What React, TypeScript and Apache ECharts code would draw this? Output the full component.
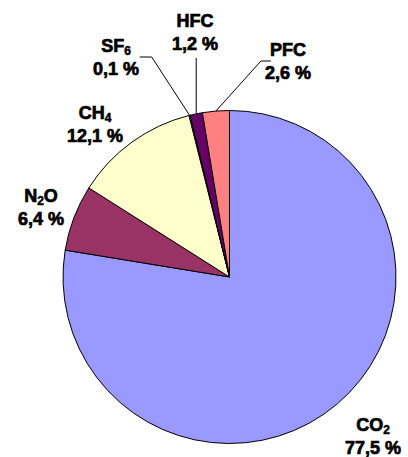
import React, { useEffect, useRef } from "react";
import * as echarts from "echarts";

// Data
const gasNames = ["CO2", "N2O", "CH4", "SF6", "HFC", "PFC"];
const gasMain = ["CO", "N", "CH", "SF", "HFC", "PFC"];
const gasSub = ["2", "2", "4", "6", "", ""];
const gasTail = ["", "O", "", "", "", ""];
const shares = [77.5, 6.4, 12.1, 0.1, 1.2, 2.6];
const colors = ["#9999FF", "#993366", "#FFFFCC", "#CCFFFF", "#660066", "#FF8080"];

// Layout
const W = 408;
const H = 457;
const CX = 229.5;
const CY = 277;
const R = 166.5;
const FONT = "Arial";
const labelPos: number[][] = [
  [373, 436],
  [41, 207],
  [95, 124],
  [116, 57],
  [195, 32],
  [288, 61],
];
const leaderKind = ["", "", "", "left", "vertical", "right"];

function fmt(v: number) {
  return v.toFixed(1).replace(".", ",") + " %";
}

function arcPoint(i: number) {
  const total = shares.reduce((a, b) => a + b, 0);
  let cum = 0;
  for (let k = 0; k < i; k++) cum += shares[k];
  const frac = (cum + shares[i] / 2) / total;
  const ang = ((90 - 360 * frac) * Math.PI) / 180;
  return [CX + R * Math.cos(ang), CY - R * Math.sin(ang)];
}

const boldText = {
  fontFamily: FONT,
  fontWeight: "bold",
  color: "#000000",
  textBorderColor: "#000000",
  textBorderWidth: 0.7,
};

export default function App() {
  const ref = useRef<HTMLDivElement>(null);
  useEffect(() => {
    if (!ref.current) return;
    const chart = echarts.init(ref.current, undefined, { renderer: "svg" });
    const data = shares.map((v, i) => ({
      name: gasNames[i],
      value: v,
      itemStyle: { color: colors[i] },
      labelLine: { show: leaderKind[i] !== "" },
    }));
    chart.setOption({
      animation: false,
      backgroundColor: "#ffffff",
      series: [
        {
          type: "pie",
          center: [CX, CY],
          radius: [0, R],
          startAngle: 90,
          clockwise: true,
          avoidLabelOverlap: false,
          data,
          itemStyle: { borderColor: "#000000", borderWidth: 1 },
          emphasis: { disabled: true },
          label: {
            show: true,
            position: "outside",
            ...boldText,
            fontSize: 18,
            lineHeight: 23,
            align: "center",
            formatter: (p: any) => {
              const i = p.dataIndex;
              let first = "{b|" + gasMain[i] + "}";
              if (gasSub[i]) first += "{s|" + gasSub[i] + "}";
              if (gasTail[i]) first += "{b|" + gasTail[i] + "}";
              return first + "\n{b|" + fmt(shares[i]) + "}";
            },
            rich: {
              b: { ...boldText, fontSize: 18, lineHeight: 23 },
              s: { ...boldText, fontSize: 12, lineHeight: 14, verticalAlign: "bottom", textBorderWidth: 0.5 },
            },
          },
          labelLine: {
            show: false,
            lineStyle: { color: "#000000", width: 1 },
          },
          labelLayout: (params: any) => {
            const i = params.dataIndex;
            const p = labelPos[i];
            const res: any = {
              x: p[0],
              y: p[1],
              align: "center",
              verticalAlign: "middle",
            };
            const kind = leaderKind[i];
            if (kind) {
              const a = arcPoint(i);
              const halfW = params.rect ? params.rect.width / 2 : 20;
              if (kind === "left") {
                const ex = p[0] + halfW + 3;
                res.labelLinePoints = [a, [ex + 12, p[1]], [ex, p[1]]];
              } else if (kind === "right") {
                const ex = p[0] - halfW - 3;
                res.labelLinePoints = [a, [ex - 10, p[1]], [ex, p[1]]];
              } else {
                res.labelLinePoints = [a, [a[0], (a[1] + p[1] + 26) / 2], [a[0], p[1] + 26]];
              }
            }
            return res;
          },
        },
      ],
    });
    return () => chart.dispose();
  }, []);
  return (
    <div
      ref={ref}
      style={{ position: "fixed", left: 0, top: 0, width: W, height: H, background: "#fff" }}
    />
  );
}
